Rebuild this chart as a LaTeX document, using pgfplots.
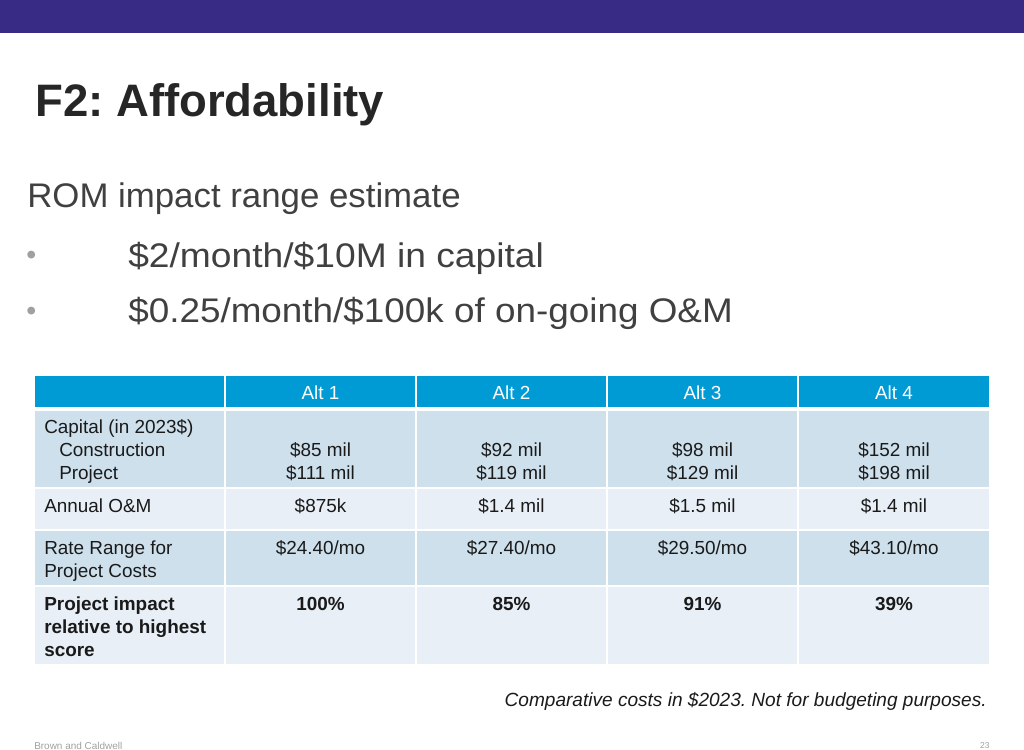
\documentclass[border=0pt]{standalone}
\usepackage{fontspec}
\setmainfont{Liberation Sans}
\usepackage{pgfplots}
\pgfplotsset{compat=1.18}
\frenchspacing
\definecolor{band}{RGB}{55,43,133}
\definecolor{hdr}{RGB}{0,155,213}
\definecolor{rowA}{RGB}{205,224,236}
\definecolor{rowB}{RGB}{232,239,247}
\definecolor{titlec}{RGB}{38,38,38}
\definecolor{bodyc}{RGB}{64,64,64}
\definecolor{tabc}{RGB}{26,26,26}
\definecolor{bulc}{RGB}{160,160,160}
\newcommand{\fs}[2]{\fontsize{#1bp}{#2bp}\selectfont}
\tikzset{
  cellc/.style={anchor=base,inner sep=0pt,text=tabc,font=\fs{13.3}{16}},
  celll/.style={anchor=base west,inner sep=0pt,text=tabc,font=\fs{13.3}{16}},
}
\begin{document}
\begin{tikzpicture}
\begin{axis}[width=720bp,height=540bp,scale only axis,
  xmin=0,xmax=1024,ymin=0,ymax=768,y dir=reverse,hide axis,clip=false]
% top band
\addplot[fill=band,draw=none] coordinates {(0,0)(1024,0)(1024,33)(0,33)} --cycle;
% table rows
\addplot[fill=hdr,draw=none] coordinates {(35,376)(989,376)(989,407)(35,407)} --cycle;
\addplot[fill=rowA,draw=none] coordinates {(35,411)(989,411)(989,487)(35,487)} --cycle;
\addplot[fill=rowB,draw=none] coordinates {(35,488.5)(989,488.5)(989,529)(35,529)} --cycle;
\addplot[fill=rowA,draw=none] coordinates {(35,530.5)(989,530.5)(989,585)(35,585)} --cycle;
\addplot[fill=rowB,draw=none] coordinates {(35,586.5)(989,586.5)(989,664)(35,664)} --cycle;
% column separators
\addplot[white,line width=1.4bp] coordinates {(225,376)(225,664)};
\addplot[white,line width=1.4bp] coordinates {(416,376)(416,664)};
\addplot[white,line width=1.4bp] coordinates {(607,376)(607,664)};
\addplot[white,line width=1.4bp] coordinates {(798,376)(798,664)};
% title and text
\node[anchor=base west,inner sep=0pt,text=titlec] at (axis cs:35,116) {\fs{32}{38}\bfseries F2: Affordability};
\node[anchor=base west,inner sep=0pt,text=bodyc] at (axis cs:27,207) {\fs{24}{28}\addfontfeature{FakeStretch=1.02}ROM impact range estimate};
\node[anchor=base west,inner sep=0pt,text=bulc] at (axis cs:26,264) {\fs{20}{24}•};
\node[anchor=base west,inner sep=0pt,text=bulc] at (axis cs:26,320) {\fs{20}{24}•};
\node[anchor=base west,inner sep=0pt,text=bodyc] at (axis cs:128,267) {\fs{24}{28}\addfontfeature{FakeStretch=1.09}\$2/month/\$10M in capital};
\node[anchor=base west,inner sep=0pt,text=bodyc] at (axis cs:128,322) {\fs{24}{28}\addfontfeature{FakeStretch=1.08}\$0.25/month/\$100k of on-going O\&M};
% header
\node[cellc,text=white] at (axis cs:320.5,399) {Alt 1};
\node[cellc,text=white] at (axis cs:511.5,399) {Alt 2};
\node[cellc,text=white] at (axis cs:702.5,399) {Alt 3};
\node[cellc,text=white] at (axis cs:894,399) {Alt 4};
% row labels
\node[celll] at (axis cs:44,433) {Capital (in 2023\$)};
\node[celll] at (axis cs:59,456) {Construction};
\node[celll] at (axis cs:59,479) {Project};
\node[celll] at (axis cs:44,512) {Annual O\&M};
\node[celll] at (axis cs:44,554) {Rate Range for};
\node[celll] at (axis cs:44,577) {Project Costs};
\node[celll] at (axis cs:44,610) {\bfseries Project impact};
\node[celll] at (axis cs:44,633) {\bfseries relative to highest};
\node[celll] at (axis cs:44,656) {\bfseries score};
% values Alt 1
\node[cellc] at (axis cs:320.5,456) {\$85 mil};
\node[cellc] at (axis cs:320.5,479) {\$111 mil};
\node[cellc] at (axis cs:320.5,512) {\$875k};
\node[cellc] at (axis cs:320.5,554) {\$24.40/mo};
\node[cellc] at (axis cs:320.5,610) {\bfseries 100\%};
% Alt 2
\node[cellc] at (axis cs:511.5,456) {\$92 mil};
\node[cellc] at (axis cs:511.5,479) {\$119 mil};
\node[cellc] at (axis cs:511.5,512) {\$1.4 mil};
\node[cellc] at (axis cs:511.5,554) {\$27.40/mo};
\node[cellc] at (axis cs:511.5,610) {\bfseries 85\%};
% Alt 3
\node[cellc] at (axis cs:702.5,456) {\$98 mil};
\node[cellc] at (axis cs:702.5,479) {\$129 mil};
\node[cellc] at (axis cs:702.5,512) {\$1.5 mil};
\node[cellc] at (axis cs:702.5,554) {\$29.50/mo};
\node[cellc] at (axis cs:702.5,610) {\bfseries 91\%};
% Alt 4
\node[cellc] at (axis cs:894,456) {\$152 mil};
\node[cellc] at (axis cs:894,479) {\$198 mil};
\node[cellc] at (axis cs:894,512) {\$1.4 mil};
\node[cellc] at (axis cs:894,554) {\$43.10/mo};
\node[cellc] at (axis cs:894,610) {\bfseries 39\%};
% footnote
\node[anchor=base east,inner sep=0pt,text=tabc] at (axis cs:987,706) {\fs{13.4}{16}\itshape Comparative costs in \$2023. Not for budgeting purposes.};
\node[anchor=base west,inner sep=0pt,text=bulc] at (axis cs:34,749) {\fs{7}{8}Brown and Caldwell};
\node[anchor=base east,inner sep=0pt,text=bulc] at (axis cs:990,748) {\fs{6}{8}23};
\end{axis}
\end{tikzpicture}
\end{document}
